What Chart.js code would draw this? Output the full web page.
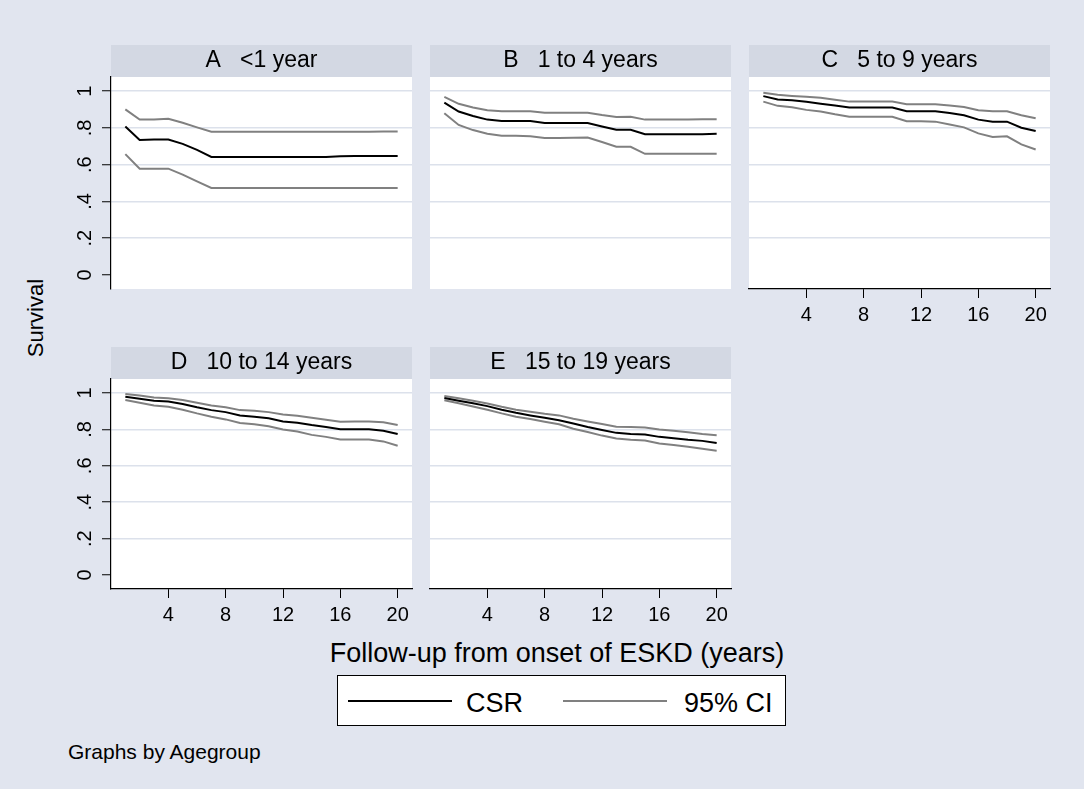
<!DOCTYPE html>
<html>
<head>
<meta charset="utf-8">
<script src="https://cdn.jsdelivr.net/npm/chart.js@4"></script>
<style>
  html, body { margin: 0; padding: 0; }
  body { width: 1084px; height: 789px; position: relative; overflow: hidden; background: #E1E5EF;
         font-family: "Liberation Sans", Arial, Helvetica, sans-serif; color: #000; }
  canvas { position: absolute; }
  .txt { position: absolute; white-space: nowrap; line-height: 1; }
  #legend { position: absolute; left: 337px; top: 675px; width: 447px; height: 49px; background: #fff; border: 1px solid #000; }
  .lline { position: absolute; height: 2px; }
</style>
</head>
<body>
<canvas id="pA"></canvas>
<canvas id="pB"></canvas>
<canvas id="pC"></canvas>
<canvas id="pD"></canvas>
<canvas id="pE"></canvas>

<div class="txt" id="ytitle" style="font-size:22px; left:36px; top:318px; transform: translate(-50%,-50%) rotate(-90deg);">Survival</div>
<div class="txt" id="xtitle" style="font-size:27px; left:557px; top:640px; transform: translateX(-50%);">Follow-up from onset of ESKD (years)</div>
<div id="legend">
  <div class="lline" style="left:10px; top:24px; width:104px; background:#000;"></div>
  <div class="txt" style="font-size:27px; left:128px; top:14px;">CSR</div>
  <div class="lline" style="left:225px; top:24px; width:104px; background:#808080;"></div>
  <div class="txt" style="font-size:27px; left:346px; top:14px;">95% CI</div>
</div>
<div class="txt" id="note" style="font-size:21px; left:68px; top:741px;">Graphs by Agegroup</div>

<script>
// ---------------- data ----------------
const years = [1,2,3,4,5,6,7,8,9,10,11,12,13,14,15,16,17,18,19,20];
const yTickValues = [0, 0.2, 0.4, 0.6, 0.8, 1];
const yTickLabels = ['0', '.2', '.4', '.6', '.8', '1'];
const xTickValues = [4, 8, 12, 16, 20];
const panelTitles = ['A   <1 year', 'B   1 to 4 years', 'C   5 to 9 years', 'D   10 to 14 years', 'E   15 to 19 years'];
const seriesNames = ['CSR', '95% CI'];

const csrA   = [0.807,0.734,0.737,0.737,0.713,0.680,0.642,0.642,0.642,0.642,0.642,0.642,0.642,0.642,0.642,0.645,0.647,0.647,0.647,0.647];
const upperA = [0.901,0.845,0.845,0.850,0.828,0.803,0.779,0.779,0.779,0.779,0.779,0.779,0.779,0.779,0.779,0.779,0.779,0.779,0.781,0.781];
const lowerA = [0.657,0.578,0.578,0.578,0.546,0.509,0.473,0.473,0.473,0.473,0.473,0.473,0.473,0.473,0.473,0.473,0.473,0.473,0.473,0.473];

const csrB   = [0.938,0.889,0.865,0.845,0.838,0.838,0.838,0.827,0.827,0.827,0.827,0.808,0.790,0.790,0.765,0.765,0.765,0.765,0.765,0.768];
const upperB = [0.969,0.931,0.911,0.896,0.891,0.891,0.891,0.883,0.883,0.883,0.883,0.870,0.859,0.861,0.845,0.845,0.845,0.845,0.847,0.847];
const lowerB = [0.880,0.816,0.788,0.768,0.757,0.757,0.755,0.745,0.745,0.746,0.748,0.723,0.697,0.697,0.659,0.659,0.659,0.659,0.659,0.659];

const csrC   = [0.973,0.954,0.951,0.942,0.932,0.922,0.911,0.911,0.911,0.911,0.891,0.891,0.891,0.881,0.869,0.845,0.834,0.834,0.801,0.783];
const upperC = [0.991,0.980,0.974,0.969,0.964,0.953,0.943,0.943,0.943,0.943,0.929,0.929,0.929,0.922,0.914,0.896,0.891,0.891,0.869,0.852];
const lowerC = [0.943,0.920,0.912,0.898,0.889,0.874,0.861,0.861,0.861,0.861,0.836,0.836,0.834,0.819,0.803,0.770,0.750,0.754,0.710,0.682];

const csrD   = [0.980,0.969,0.957,0.953,0.940,0.922,0.906,0.895,0.877,0.870,0.861,0.844,0.837,0.824,0.813,0.801,0.801,0.801,0.793,0.775];
const upperD = [0.995,0.986,0.975,0.971,0.962,0.946,0.931,0.922,0.906,0.902,0.895,0.882,0.875,0.864,0.853,0.842,0.844,0.844,0.839,0.824];
const lowerD = [0.962,0.947,0.931,0.924,0.908,0.888,0.870,0.855,0.835,0.828,0.817,0.799,0.788,0.770,0.759,0.745,0.745,0.745,0.734,0.710];

const csrE   = [0.973,0.958,0.944,0.928,0.908,0.891,0.877,0.864,0.850,0.832,0.813,0.797,0.781,0.775,0.772,0.759,0.752,0.743,0.737,0.725];
const upperE = [0.984,0.971,0.957,0.942,0.924,0.908,0.897,0.886,0.877,0.859,0.844,0.830,0.815,0.813,0.810,0.799,0.792,0.784,0.775,0.768];
const lowerE = [0.960,0.944,0.926,0.908,0.888,0.870,0.857,0.842,0.828,0.804,0.786,0.766,0.750,0.743,0.739,0.723,0.714,0.705,0.694,0.683];

// ---------------- styling / layout ----------------
const FONT = '"Liberation Sans", Arial, Helvetica, sans-serif';
const STRIP = '#D3D8E3';
const GRID = '#DCE1EB';
const CI_COLOR = '#808080';
const Y_AXIS_W = 52, X_AXIS_H = 45, RIGHT_PAD = 8, STRIP_H = 32;

const stripPlugin = {
  id: 'strip',
  beforeDraw(chart) {
    const { ctx, chartArea: a } = chart;
    ctx.save();
    ctx.fillStyle = STRIP;
    ctx.fillRect(a.left, 0, a.right - a.left, a.top);
    ctx.fillStyle = '#fff';
    ctx.fillRect(a.left, a.top, a.right - a.left, a.bottom - a.top);
    ctx.restore();
  }
};

function toPts(vals) { return years.map((x, i) => ({ x: x, y: vals[i] })); }

function makePanel(id, geo, title, csr, up, lo, showY, showX) {
  const cv = document.getElementById(id);
  const w = (geo.right - geo.left) + Y_AXIS_W + RIGHT_PAD;
  const h = (geo.bottom - geo.stripTop) + X_AXIS_H;
  cv.width = w; cv.height = h;
  cv.style.left = (geo.left - Y_AXIS_W) + 'px';
  cv.style.top = geo.stripTop + 'px';
  new Chart(cv, {
    type: 'line',
    data: {
      datasets: [
        { label: seriesNames[0], data: toPts(csr), borderColor: '#000', borderWidth: 2, pointRadius: 0, tension: 0, fill: false },
        { label: seriesNames[1], data: toPts(up), borderColor: CI_COLOR, borderWidth: 2, pointRadius: 0, tension: 0, fill: false },
        { label: seriesNames[1], data: toPts(lo), borderColor: CI_COLOR, borderWidth: 2, pointRadius: 0, tension: 0, fill: false }
      ]
    },
    options: {
      responsive: false,
      animation: false,
      devicePixelRatio: 1,
      layout: { padding: { left: 0, right: RIGHT_PAD, top: 0, bottom: 0 } },
      plugins: {
        legend: { display: false },
        tooltip: { enabled: false },
        title: {
          display: true, text: title, fullSize: false, color: '#000',
          font: { family: FONT, size: 23, weight: 'normal', lineHeight: 1.2 },
          padding: { top: (STRIP_H - 27.6) / 2, bottom: (STRIP_H - 27.6) / 2 }
        }
      },
      scales: {
        x: {
          type: 'linear', min: 0, max: 21,
          afterBuildTicks: s => { s.ticks = xTickValues.map(v => ({ value: v })); },
          afterFit: s => { s.height = X_AXIS_H; },
          grid: { display: showX, drawOnChartArea: false, drawTicks: true, tickLength: 9, tickColor: '#000', tickWidth: 1 },
          border: { display: showX, color: '#000', width: 1.2 },
          ticks: { display: showX, color: '#000', font: { family: FONT, size: 20 }, padding: 5, maxRotation: 0, autoSkip: false }
        },
        y: {
          type: 'linear', min: -0.077, max: 1.077,
          afterBuildTicks: s => { s.ticks = yTickValues.map(v => ({ value: v })); },
          afterFit: s => { s.width = Y_AXIS_W; },
          grid: {
            color: c => (c.tick && c.tick.value === 0) ? 'rgba(0,0,0,0)' : GRID,
            lineWidth: 1.5, drawTicks: showY, tickLength: 9, tickColor: '#000', tickWidth: 1
          },
          border: { display: showY, color: '#000', width: 1.2 },
          ticks: {
            display: showY, color: '#000', font: { family: FONT, size: 20 },
            minRotation: 90, maxRotation: 90, crossAlign: 'center', padding: 8, autoSkip: false,
            callback: v => { const i = yTickValues.indexOf(v); return i >= 0 ? yTickLabels[i] : ''; }
          }
        }
      }
    },
    plugins: [stripPlugin]
  });
}

const geoRow1 = { stripTop: 45, bottom: 289 };
const geoRow2 = { stripTop: 347, bottom: 589 };
makePanel('pA', { left: 111, right: 412, ...geoRow1 }, panelTitles[0], csrA, upperA, lowerA, true, false);
makePanel('pB', { left: 430, right: 731, ...geoRow1 }, panelTitles[1], csrB, upperB, lowerB, false, false);
makePanel('pC', { left: 749, right: 1050, ...geoRow1 }, panelTitles[2], csrC, upperC, lowerC, false, true);
makePanel('pD', { left: 111, right: 412, ...geoRow2 }, panelTitles[3], csrD, upperD, lowerD, true, true);
makePanel('pE', { left: 430, right: 731, ...geoRow2 }, panelTitles[4], csrE, upperE, lowerE, false, true);
</script>
</body>
</html>
